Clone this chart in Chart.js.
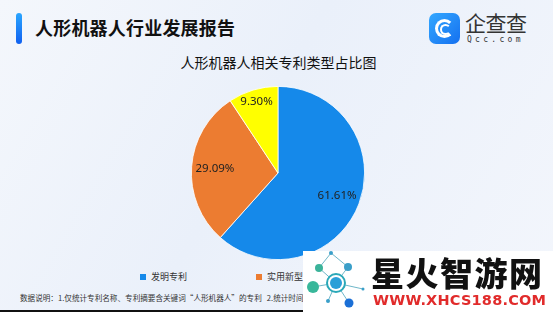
<!DOCTYPE html>
<html>
<head>
<meta charset="utf-8">
<script src="https://cdn.jsdelivr.net/npm/chart.js@4"></script>
<style>
  body { margin: 0; }
  .page {
    position: relative; width: 553px; height: 312px; overflow: hidden;
    background: linear-gradient(120deg, #f4f7fc 0%, #eaf0fa 45%, #f3f6fc 100%);
    font-family: "Noto Sans CJK SC", "Noto Sans", sans-serif;
  }
  .bar { position: absolute; left: 16px; top: 13px; width: 6px; height: 31px; border-radius: 3px;
    background: linear-gradient(#2aa6ff, #1060f0); }
  .head { position: absolute; left: 35px; top: 14px; font-size: 18px; font-weight: bold; color: #111; line-height: 26px; letter-spacing: 0.2px; }
  .logo { position: absolute; left: 429px; top: 13px; width: 31px; height: 31px; border-radius: 7px;
    background: linear-gradient(135deg, #34a8ff, #1470f0); }
  .logo i { position: absolute; left: 6px; top: 6px; width: 13px; height: 13px; border: 3px solid #fff; border-radius: 50%; border-right-color: transparent; }
  .logo b { position: absolute; left: 11px; top: 11px; width: 7px; height: 7px; border: 2px solid #fff; border-radius: 50%; border-right-color: transparent; }
  .brand { position: absolute; left: 465px; top: 9px; font-size: 21px; color: #333; line-height: 26px; letter-spacing: -0.5px; }
  .qcc { position: absolute; left: 467px; top: 35px; font-size: 8px; color: #333; letter-spacing: 3.3px; line-height: 9px; font-family: "DejaVu Sans Mono", monospace; }
  .title { position: absolute; left: 0; width: 553px; top: 52px; text-align: center; padding-left: 2px; font-size: 14px; color: #111; line-height: 20px; }
  .chart { position: absolute; left: 104px; top: 86px; width: 348px; height: 174px; }
  .legend { position: absolute; top: 270px; left: 0; width: 553px; height: 14px; font-size: 9px; color: #333; }
  .legend span { position: absolute; top: 0; line-height: 14px; white-space: nowrap; }
  .legend span i { display: inline-block; width: 6px; height: 6px; margin-right: 5px; vertical-align: 0; }
  .note { position: absolute; left: 20px; top: 291px; font-size: 7.6px; color: #333; line-height: 14px; white-space: nowrap; }
  .line { position: absolute; left: 0; top: 310px; width: 303px; height: 2px; background: #111; }
  .wm { position: absolute; left: 303px; top: 251px; width: 250px; height: 61px; background: #fff; }
  .wm .big { position: absolute; left: 68px; top: 2px; font-size: 33px; font-weight: 900; color: #111; line-height: 38px; letter-spacing: 1.5px; }
  .wm .url { position: absolute; left: 70px; top: 40px; font-size: 14.5px; font-weight: bold; color: #e12b2b; line-height: 18px; font-family: "DejaVu Sans", sans-serif; letter-spacing: 0.2px; }
</style>
</head>
<body>
<div class="page">
  <div class="bar"></div>
  <div class="head">人形机器人行业发展报告</div>
  <div class="logo"><i></i><b></b></div>
  <div class="brand">企查查</div>
  <div class="qcc">Qcc.com</div>
  <div class="title">人形机器人相关专利类型占比图</div>
  <div class="chart"><canvas id="pie"></canvas></div>
  <div class="legend" id="legend"></div>
  <div class="note">数据说明：1.仅统计专利名称、专利摘要含关键词“人形机器人”的专利&nbsp;&nbsp;&nbsp;2.统计时间：2023/3/1</div>
  <div class="line"></div>
  <div class="wm">
    <svg width="66" height="61" style="position:absolute;left:0;top:0">
      <g stroke="#6fb7c9" stroke-width="1" fill="none">
        <line x1="16" y1="17" x2="33" y2="32"/><line x1="45" y1="16" x2="33" y2="32"/>
        <line x1="10" y1="36" x2="33" y2="32"/><line x1="33" y1="32" x2="46" y2="52"/>
        <line x1="33" y1="32" x2="60" y2="38"/><line x1="28" y1="2" x2="45" y2="16"/>
        <line x1="16" y1="17" x2="28" y2="2"/><line x1="33" y1="32" x2="25" y2="50"/>
      </g>
      <circle cx="16" cy="17" r="4" fill="#3bb39a"/>
      <circle cx="45" cy="16" r="4" fill="#3a9fc9"/>
      <circle cx="10" cy="36" r="6" fill="#38b79a"/>
      <circle cx="46" cy="52" r="4.5" fill="#1b6fd6"/>
      <circle cx="28" cy="2" r="2" fill="#3a9fc9"/>
      <circle cx="60" cy="38" r="1.5" fill="#3a9fc9"/>
      <circle cx="25" cy="50" r="2" fill="#3a9fc9"/>
      <circle cx="33" cy="32" r="9" fill="#fff" stroke="#2aa8b8" stroke-width="2"/>
      <circle cx="33" cy="32" r="6" fill="#2a9fd8"/>
    </svg>
    <div class="big">星火智游网</div>
    <div class="url">WWW.XHCS188.COM</div>
  </div>
</div>
<script>
// data
const categories = ['发明专利', '实用新型', '外观设计'];
const shares = [61.61, 29.09, 9.30];
const colors = ['#1589ea', '#ec7c31', '#ffff00'];

// legend positions (left px) for html legend
const legendX = [140, 256, 370];
let legend = document.getElementById('legend');
categories.forEach((name, i) => {
  let s = document.createElement('span');
  s.style.left = legendX[i] + 'px';
  s.innerHTML = `<i style="background:${colors[i]}"></i>${name}`;
  legend.append(s);
});

// percent labels inside slices
const sliceLabels = {
  id: 'sliceLabels',
  afterDatasetsDraw(chart) {
    const ctx = chart.ctx;
    const meta = chart.getDatasetMeta(0);
    ctx.save();
    ctx.font = '11.5px "Noto Sans", "DejaVu Sans", sans-serif';
    ctx.fillStyle = '#222';
    ctx.textAlign = 'center';
    ctx.textBaseline = 'middle';
    meta.data.forEach((arc, i) => {
      const mid = (arc.startAngle + arc.endAngle) / 2;
      const k = shares[i] < 15 ? 0.86 : 0.73;
      const x = arc.x + Math.cos(mid) * arc.outerRadius * k;
      const y = arc.y + Math.sin(mid) * arc.outerRadius * k;
      ctx.fillText(shares[i].toFixed(2) + '%', x, y);
    });
    ctx.restore();
  }
};

new Chart(document.getElementById('pie'), {
  type: 'pie',
  data: {
    labels: categories,
    datasets: [{
      data: shares,
      backgroundColor: colors,
      borderColor: '#ffffff',
      borderWidth: 0.8
    }]
  },
  options: {
    responsive: true,
    maintainAspectRatio: false,
    animation: false,
    layout: { padding: 0 },
    plugins: { legend: { display: false }, tooltip: { enabled: false } }
  },
  plugins: [sliceLabels]
});
</script>
</body>
</html>
